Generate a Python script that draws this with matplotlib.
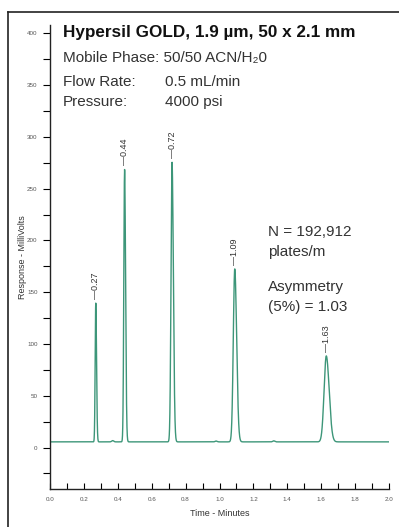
import matplotlib
matplotlib.use("Agg")
import matplotlib.pyplot as plt
from matplotlib.lines import Line2D
import numpy as np

# Peak table
peak_times = [0.27, 0.44, 0.72, 1.09, 1.63]
peak_heights = [134.0, 263.0, 270.0, 167.0, 83.0]   # above baseline, mV
peak_sigmas = [0.0035, 0.0045, 0.0060, 0.0085, 0.0130]
peak_labels = ["0.27", "0.44", "0.72", "1.09", "1.63"]

# small baseline bumps
bump_times = [0.37, 0.98, 1.32]
bump_heights = [1.2, 0.8, 1.0]

baseline = 5.5
time_range = (0.0, 2.0)

LINE_COLOR = "#3d9679"
TEXT_COLOR = "#333333"
FONT = ["Liberation Sans", "DejaVu Sans"]

plt.rcParams["font.family"] = FONT

t = np.linspace(time_range[0], time_range[1], 4000)
signal = np.full_like(t, baseline)
for tr, h, s in zip(peak_times, peak_heights, peak_sigmas):
    # slight tailing: wider on the trailing side
    sig = np.where(t < tr, s, s * 1.3)
    signal += h * np.exp(-0.5 * ((t - tr) / sig) ** 2)
for tr, h in zip(bump_times, bump_heights):
    signal += h * np.exp(-0.5 * ((t - tr) / 0.006) ** 2)

fig = plt.figure(figsize=(3.99, 5.27), dpi=100)
ax = fig.add_axes([50 / 399, 38 / 527, 339 / 399, 464 / 527])

ax.plot(t, signal, color=LINE_COLOR, linewidth=1.0)

ax.set_xlim(0, 2.0)
ax.set_ylim(-40, 408)
ax.spines["top"].set_visible(False)
ax.spines["right"].set_visible(False)
for sp in ("left", "bottom"):
    ax.spines[sp].set_color("#222222")
    ax.spines[sp].set_linewidth(1.0)

ax.set_xticks(np.arange(0, 2.01, 0.2))
ax.set_xticks(np.arange(0.1, 2.0, 0.2), minor=True)
ax.set_xticklabels([f"{v:.1f}" for v in np.arange(0, 2.01, 0.2)])
ax.set_yticks(np.arange(0, 401, 50))
ax.set_yticks(np.arange(-25, 401, 50), minor=True)
ax.tick_params(axis="x", which="both", direction="in", length=4, width=0.8,
               labelsize=4.5, labelcolor="#555555", pad=6)
ax.tick_params(axis="y", which="both", direction="out", length=5, width=0.8,
               labelsize=4.5, labelcolor="#555555", pad=4)

ax.set_xlabel("Time - Minutes", fontsize=6.5, color=TEXT_COLOR, labelpad=5)
ax.set_ylabel("Response - MilliVolts", fontsize=6.5, color=TEXT_COLOR, labelpad=0)

# retention time labels
for tr, h, lab in zip(peak_times, peak_heights, peak_labels):
    ax.annotate("\u2014" + lab, xy=(tr, baseline + h), xytext=(0, 3),
                textcoords="offset points", rotation=90, ha="center", va="bottom",
                fontsize=6.5, color=TEXT_COLOR)

# header text
fig.text(63 / 399, 1 - 33 / 527, "Hypersil GOLD, 1.9 \u00b5m, 50 x 2.1 mm",
         fontsize=12.3, fontweight="bold", color="#111111", va="center")
fig.text(63 / 399, 1 - 58 / 527, "Mobile Phase: 50/50 ACN/H\u20820",
         fontsize=11, color=TEXT_COLOR, va="center")
fig.text(63 / 399, 1 - 82 / 527, "Flow Rate:", fontsize=11, color=TEXT_COLOR, va="center")
fig.text(165 / 399, 1 - 82 / 527, "0.5 mL/min", fontsize=11, color=TEXT_COLOR, va="center")
fig.text(63 / 399, 1 - 102 / 527, "Pressure:", fontsize=11, color=TEXT_COLOR, va="center")
fig.text(165 / 399, 1 - 102 / 527, "4000 psi", fontsize=11, color=TEXT_COLOR, va="center")

fig.text(268 / 399, 1 - 232 / 527, "N = 192,912", fontsize=11, color=TEXT_COLOR, va="center")
fig.text(268 / 399, 1 - 252 / 527, "plates/m", fontsize=11, color=TEXT_COLOR, va="center")
fig.text(268 / 399, 1 - 287 / 527, "Asymmetry", fontsize=11, color=TEXT_COLOR, va="center")
fig.text(268 / 399, 1 - 307 / 527, "(5%) = 1.03", fontsize=11, color=TEXT_COLOR, va="center")

# outer frame (left and top edges)
fig.add_artist(Line2D([8 / 399, 8 / 399], [0, 1 - 12 / 527], color="#222222", linewidth=1.2))
fig.add_artist(Line2D([8 / 399, 1], [1 - 12 / 527, 1 - 12 / 527], color="#222222", linewidth=1.2))

fig.savefig("out.png", dpi=100)
